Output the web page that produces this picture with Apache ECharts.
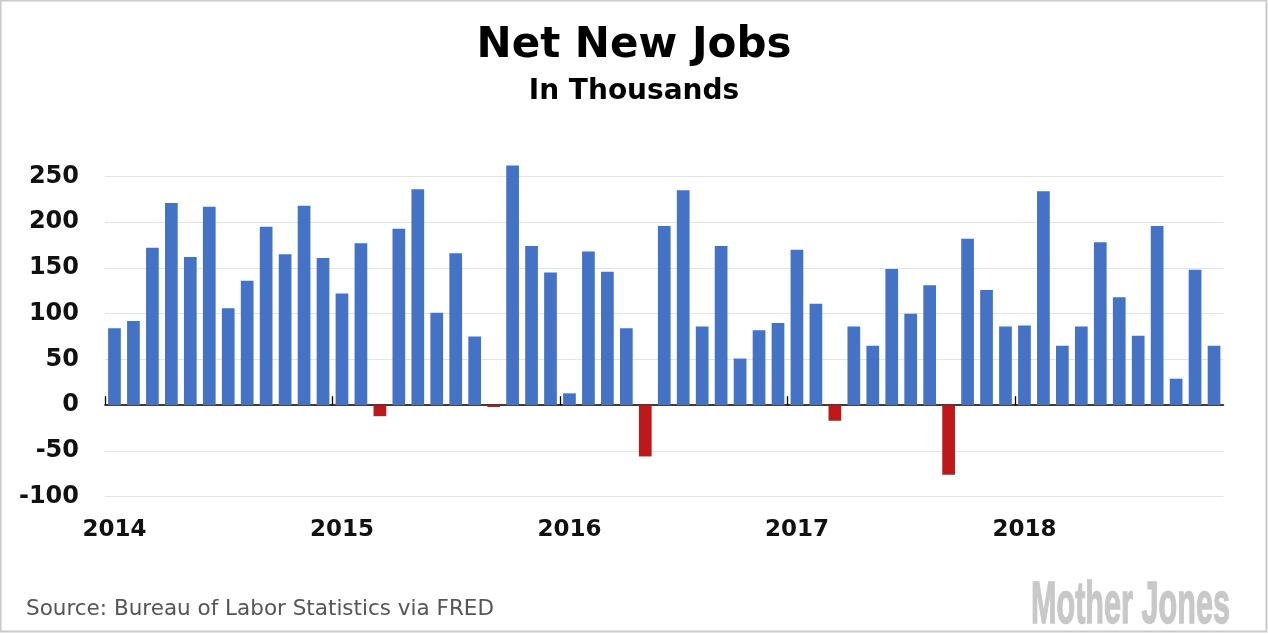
<!DOCTYPE html>
<html>
<head>
<meta charset="utf-8">
<script src="https://cdn.jsdelivr.net/npm/echarts@6/dist/echarts.min.js"></script>
<style>
  html, body { margin: 0; padding: 0; background: #fff; }
  #chart { width: 1268px; height: 634px; }
</style>
</head>
<body>
<div id="chart"></div>
<script>
// ---- data (thousands of net new jobs, monthly Jan 2014 - Nov 2018) ----
var years = ['2014', '2015', '2016', '2017', '2018'];
var monthNames = ['Jan','Feb','Mar','Apr','May','Jun','Jul','Aug','Sep','Oct','Nov','Dec'];
var jobs2014 = [84, 92, 172, 221, 162, 217, 106, 136, 195, 165, 218, 161];
var jobs2015 = [122, 177, -12, 193, 236, 101, 166, 75, -2, 262, 174, 145];
var jobs2016 = [13, 168, 146, 84, -56, 196, 235, 86, 174, 51, 82, 90];
var jobs2017 = [170, 111, -17, 86, 65, 149, 100, 131, -76, 182, 126, 86];
var jobs2018 = [87, 234, 65, 86, 178, 118, 76, 196, 29, 148, 65];
var yTicks = [250, 200, 150, 100, 50, 0, -50, -100];

var values = [].concat(jobs2014, jobs2015, jobs2016, jobs2017, jobs2018);
var categories = [];
years.forEach(function (y) {
  monthNames.forEach(function (m) { categories.push(m + ' ' + y); });
});
categories = categories.slice(0, values.length);
// year boundaries in month units (tick positions at start of each January)
var yearStarts = years.map(function (y, i) { return i * 12; });

var POS = '#4472C4', NEG = '#BE1818';
var axisFont = 'DejaVu Sans';

var chart = echarts.init(document.getElementById('chart'));
chart.setOption({
  animation: false,
  backgroundColor: '#ffffff',
  grid: { left: 105, right: 44.5, top: 176.5, bottom: 137.3, containLabel: false },
  xAxis: [
    {
      // zero line with year-boundary ticks
      type: 'value',
      min: 0,
      max: values.length,
      position: 'top',
      axisLine: { show: true, onZero: true, lineStyle: { color: '#000', width: 1.5 } },
      axisTick: {
        show: true, inside: false, length: 9,
        customValues: yearStarts,
        lineStyle: { color: '#000', width: 1.3 }
      },
      axisLabel: { show: false },
      splitLine: { show: false }
    },
    {
      type: 'category',
      data: categories,
      position: 'bottom',
      boundaryGap: true,
      axisLine: { show: false, onZero: false },
      axisTick: { show: false },
      axisLabel: {
        show: true,
        interval: function (i) { return i % 12 === 0; },
        formatter: function (v, i) { return years[Math.floor(i / 12)]; },
        margin: 22,
        fontFamily: axisFont, fontWeight: 'bold', fontSize: 23, color: '#111'
      },
      splitLine: { show: false }
    }
  ],
  yAxis: {
    type: 'value',
    min: yTicks[yTicks.length - 1],
    max: yTicks[0],
    interval: 50,
    axisLine: { show: false },
    axisTick: { show: false },
    axisLabel: {
      margin: 26,
      fontFamily: axisFont, fontWeight: 'bold', fontSize: 24, color: '#111'
    },
    splitLine: { show: true, lineStyle: { color: '#e4e4e4', width: 1.2 } }
  },
  series: [{
    type: 'bar',
    xAxisIndex: 1,
    data: values,
    barWidth: '67%',
    clip: false,
    z: 1,
    itemStyle: {
      color: function (p) { return p.value < 0 ? NEG : POS; }
    }
  }],
  graphic: [
    {
      type: 'rect', silent: true, z: 100,
      shape: { x: 0.5, y: 0.5, width: 1266, height: 631 },
      style: { fill: 'none', stroke: '#c9c9c9', lineWidth: 2 }
    },
    {
      type: 'text', left: 'center', top: 25,
      style: { text: 'Net New Jobs', font: 'bold 42px "DejaVu Sans"', fill: '#000' }
    },
    {
      type: 'text', left: 'center', top: 78,
      style: { text: 'In Thousands', font: 'bold 28px "DejaVu Sans"', fill: '#000' }
    },
    {
      type: 'text', left: 26, top: 598,
      style: { text: 'Source: Bureau of Labor Statistics via FRED', font: '21.5px "DejaVu Sans"', fill: '#555' }
    },
    {
      type: 'text', x: 1031, y: 576, scaleX: 0.51,
      style: { text: 'Mother Jones', font: 'bold 60px "Liberation Sans"', fill: '#c8c8c8', stroke: '#c8c8c8', lineWidth: 1.5 }
    }
  ]
});
</script>
</body>
</html>
